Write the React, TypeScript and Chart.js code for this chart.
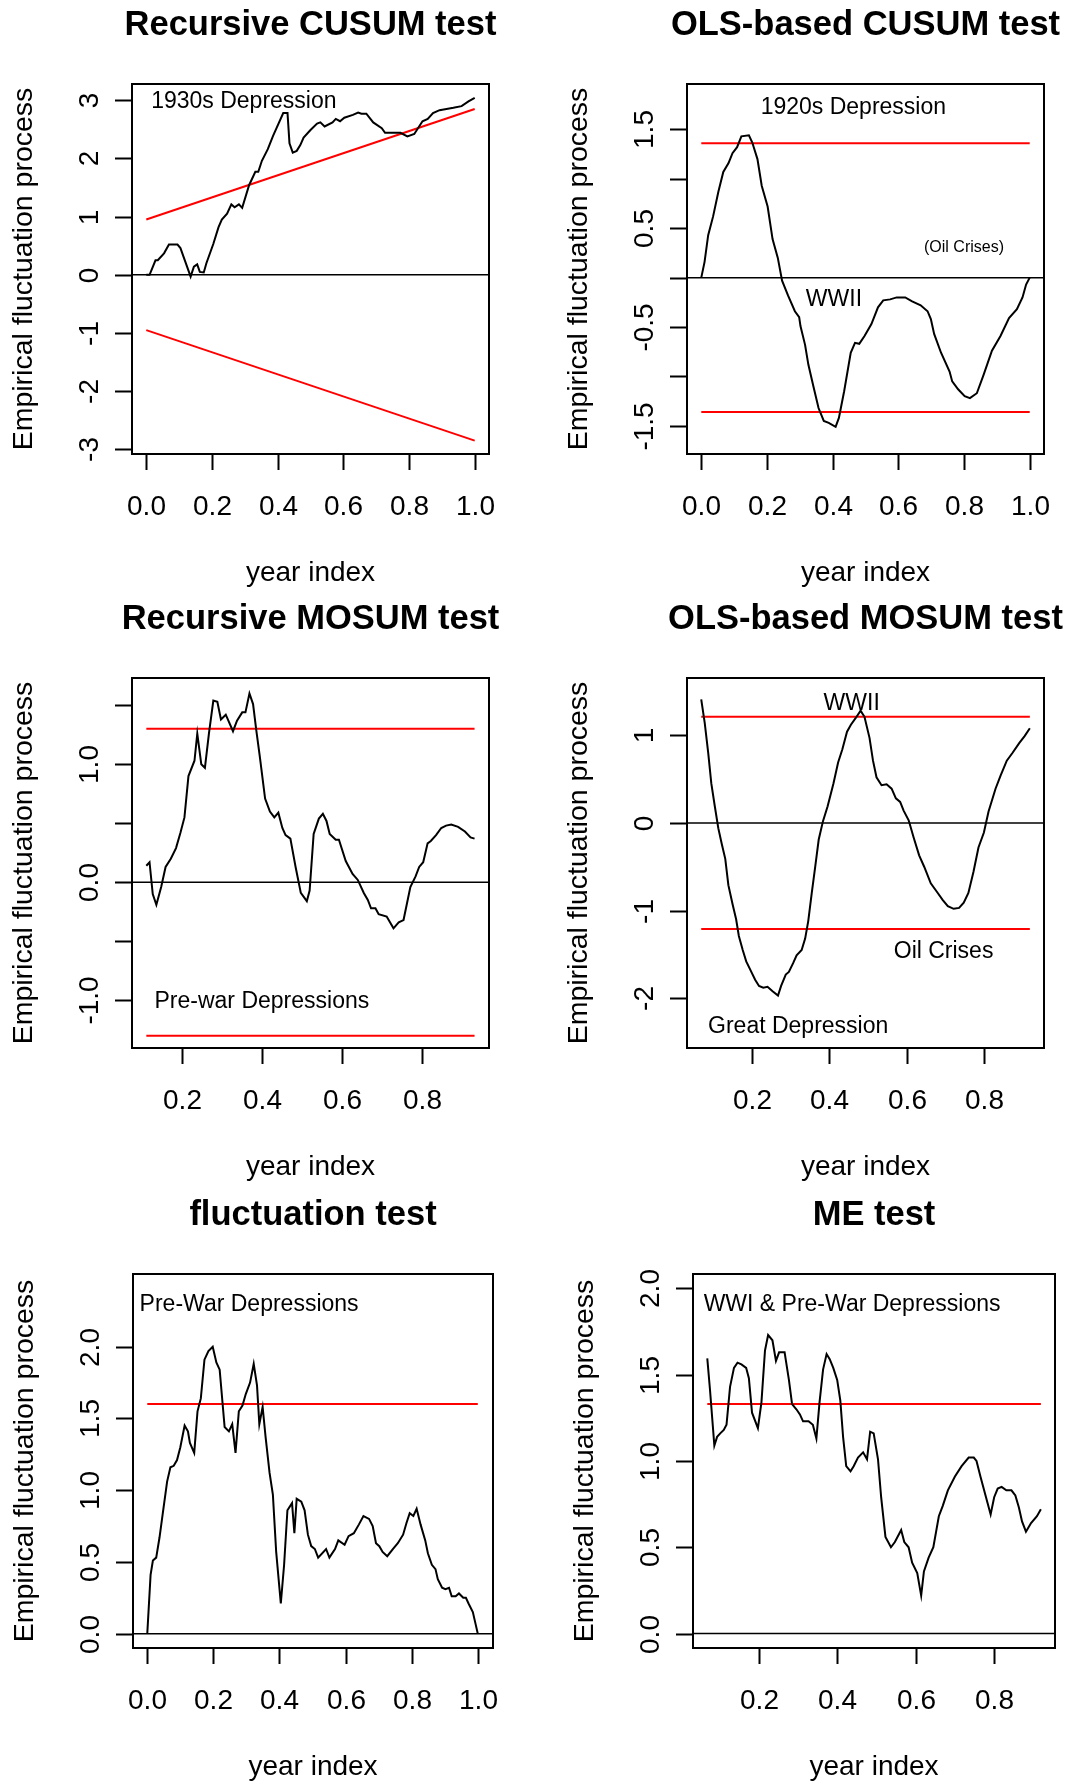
import React, { useEffect, useRef } from "react";
import { Chart, registerables } from "chart.js";

Chart.register(...registerables);

const FONT = '"Liberation Sans", Arial, Helvetica, sans-serif';
const CW = 534;
const CH = 594;

// ---------- Panel 1: Recursive CUSUM ----------
const p1X = [0, 0.01, 0.028, 0.035, 0.054, 0.069, 0.095, 0.104, 0.116, 0.135, 0.145, 0.155, 0.163, 0.175, 0.183, 0.204, 0.22, 0.23, 0.246, 0.259, 0.269, 0.282, 0.292, 0.313, 0.332, 0.341, 0.352, 0.37, 0.386, 0.417, 0.43, 0.436, 0.446, 0.458, 0.469, 0.479, 0.5, 0.52, 0.53, 0.543, 0.567, 0.577, 0.59, 0.603, 0.629, 0.645, 0.655, 0.67, 0.691, 0.717, 0.727, 0.774, 0.795, 0.816, 0.841, 0.857, 0.873, 0.893, 0.914, 0.935, 0.96, 0.981, 1.0];
const p1Y = [0, 0, 0.25, 0.25, 0.37, 0.52, 0.52, 0.46, 0.27, -0.03, 0.14, 0.18, 0.05, 0.04, 0.2, 0.53, 0.82, 0.95, 1.05, 1.21, 1.16, 1.21, 1.15, 1.54, 1.77, 1.77, 1.96, 2.16, 2.39, 2.78, 2.78, 2.26, 2.1, 2.13, 2.23, 2.36, 2.49, 2.6, 2.62, 2.55, 2.62, 2.68, 2.64, 2.7, 2.75, 2.79, 2.77, 2.77, 2.62, 2.52, 2.44, 2.44, 2.38, 2.42, 2.64, 2.68, 2.78, 2.83, 2.85, 2.87, 2.9, 2.98, 3.04];
const p1BoundX = [0, 1];
const p1UpperY = [0.95, 2.85];
const p1LowerY = [-0.95, -2.85];
const p1XTicks = [0, 0.2, 0.4, 0.6, 0.8, 1.0];
const p1XLabels = ["0.0", "0.2", "0.4", "0.6", "0.8", "1.0"];
const p1YTicks = [-3, -2, -1, 0, 1, 2, 3];
const p1YLabels = ["-3", "-2", "-1", "0", "1", "2", "3"];

// ---------- Panel 2: OLS-based CUSUM ----------
const p2X = [0, 0.01, 0.021, 0.036, 0.052, 0.067, 0.083, 0.095, 0.109, 0.122, 0.145, 0.155, 0.171, 0.184, 0.202, 0.217, 0.233, 0.246, 0.264, 0.285, 0.298, 0.302, 0.316, 0.326, 0.342, 0.357, 0.373, 0.388, 0.409, 0.419, 0.435, 0.455, 0.468, 0.481, 0.497, 0.518, 0.538, 0.554, 0.575, 0.595, 0.621, 0.642, 0.668, 0.689, 0.699, 0.709, 0.73, 0.756, 0.764, 0.782, 0.802, 0.818, 0.839, 0.859, 0.885, 0.911, 0.937, 0.961, 0.978, 0.989, 1.0];
const p2Y = [0, 0.16, 0.43, 0.62, 0.87, 1.07, 1.16, 1.26, 1.32, 1.43, 1.44, 1.37, 1.2, 0.93, 0.72, 0.39, 0.2, -0.03, -0.18, -0.34, -0.4, -0.49, -0.68, -0.88, -1.11, -1.32, -1.45, -1.47, -1.51, -1.42, -1.15, -0.76, -0.66, -0.67, -0.59, -0.47, -0.3, -0.23, -0.22, -0.2, -0.2, -0.24, -0.28, -0.34, -0.42, -0.57, -0.76, -0.95, -1.05, -1.13, -1.2, -1.22, -1.17, -0.99, -0.74, -0.59, -0.41, -0.32, -0.2, -0.07, 0];
const p2BoundX = [0, 1];
const p2UpperY = [1.36, 1.36];
const p2LowerY = [-1.36, -1.36];
const p2XTicks = [0, 0.2, 0.4, 0.6, 0.8, 1.0];
const p2XLabels = ["0.0", "0.2", "0.4", "0.6", "0.8", "1.0"];
const p2YTicks = [-1.5, -1.0, -0.5, 0, 0.5, 1.0, 1.5];
const p2YLabels = ["-1.5", "", "-0.5", "", "0.5", "", "1.5"];

// ---------- Panel 3: Recursive MOSUM ----------
const p3X = [0.112, 0.12, 0.128, 0.137, 0.149, 0.16, 0.173, 0.186, 0.197, 0.207, 0.217, 0.232, 0.239, 0.249, 0.258, 0.268, 0.279, 0.289, 0.298, 0.31, 0.328, 0.338, 0.351, 0.359, 0.369, 0.378, 0.386, 0.395, 0.408, 0.42, 0.431, 0.441, 0.451, 0.459, 0.471, 0.484, 0.497, 0.512, 0.519, 0.529, 0.542, 0.552, 0.561, 0.569, 0.584, 0.592, 0.609, 0.626, 0.639, 0.654, 0.664, 0.672, 0.683, 0.691, 0.711, 0.728, 0.741, 0.753, 0.77, 0.783, 0.792, 0.802, 0.813, 0.821, 0.834, 0.847, 0.859, 0.872, 0.889, 0.906, 0.92, 0.93];
const p3Y = [0.14, 0.17, -0.1, -0.19, -0.04, 0.13, 0.2, 0.29, 0.42, 0.55, 0.9, 1.03, 1.26, 1.0, 0.97, 1.26, 1.54, 1.53, 1.38, 1.42, 1.28, 1.37, 1.44, 1.44, 1.6, 1.51, 1.29, 1.06, 0.71, 0.6, 0.55, 0.59, 0.46, 0.4, 0.37, 0.13, -0.09, -0.16, -0.07, 0.41, 0.54, 0.58, 0.52, 0.41, 0.36, 0.36, 0.18, 0.07, 0.02, -0.09, -0.15, -0.22, -0.22, -0.27, -0.29, -0.39, -0.34, -0.32, -0.04, 0.05, 0.13, 0.17, 0.33, 0.35, 0.4, 0.46, 0.48, 0.49, 0.47, 0.43, 0.38, 0.37];
const p3BoundX = [0.112, 0.93];
const p3UpperY = [1.3, 1.3];
const p3LowerY = [-1.3, -1.3];
const p3XTicks = [0.2, 0.4, 0.6, 0.8];
const p3XLabels = ["0.2", "0.4", "0.6", "0.8"];
const p3YTicks = [-1.0, -0.5, 0, 0.5, 1.0, 1.5];
const p3YLabels = ["-1.0", "", "0.0", "", "1.0", ""];

// ---------- Panel 4: OLS-based MOSUM ----------
const p4X = [0.07, 0.079, 0.088, 0.096, 0.105, 0.114, 0.123, 0.132, 0.14, 0.151, 0.16, 0.167, 0.177, 0.186, 0.197, 0.209, 0.219, 0.23, 0.241, 0.254, 0.268, 0.276, 0.288, 0.296, 0.307, 0.316, 0.329, 0.338, 0.346, 0.355, 0.364, 0.373, 0.384, 0.396, 0.411, 0.423, 0.434, 0.446, 0.456, 0.469, 0.481, 0.491, 0.504, 0.513, 0.522, 0.535, 0.548, 0.561, 0.572, 0.583, 0.592, 0.605, 0.618, 0.632, 0.645, 0.662, 0.68, 0.693, 0.706, 0.721, 0.735, 0.747, 0.759, 0.772, 0.785, 0.799, 0.811, 0.829, 0.842, 0.858, 0.873, 0.89, 0.904, 0.9175];
const p4Y = [1.41, 1.14, 0.8, 0.45, 0.19, -0.06, -0.24, -0.41, -0.71, -0.93, -1.1, -1.29, -1.45, -1.58, -1.68, -1.79, -1.86, -1.88, -1.87, -1.92, -1.97, -1.86, -1.73, -1.7, -1.6, -1.51, -1.45, -1.32, -1.12, -0.8, -0.5, -0.19, 0.02, 0.19, 0.45, 0.69, 0.84, 1.04, 1.12, 1.2, 1.28, 1.21, 0.97, 0.71, 0.52, 0.43, 0.44, 0.39, 0.28, 0.24, 0.14, 0.03, -0.17, -0.37, -0.5, -0.69, -0.8, -0.88, -0.95, -0.98, -0.97, -0.91, -0.8, -0.56, -0.28, -0.11, 0.13, 0.39, 0.54, 0.71, 0.8, 0.91, 0.99, 1.08];
const p4BoundX = [0.07, 0.9175];
const p4UpperY = [1.21, 1.21];
const p4LowerY = [-1.21, -1.21];
const p4XTicks = [0.2, 0.4, 0.6, 0.8];
const p4XLabels = ["0.2", "0.4", "0.6", "0.8"];
const p4YTicks = [-2, -1, 0, 1];
const p4YLabels = ["-2", "-1", "0", "1"];

// ---------- Panel 5: fluctuation test ----------
const p5X = [0, 0.01, 0.017, 0.027, 0.037, 0.047, 0.06, 0.07, 0.08, 0.09, 0.1, 0.113, 0.123, 0.129, 0.142, 0.152, 0.162, 0.173, 0.185, 0.198, 0.209, 0.219, 0.234, 0.247, 0.257, 0.267, 0.277, 0.288, 0.298, 0.311, 0.322, 0.332, 0.339, 0.349, 0.358, 0.37, 0.38, 0.39, 0.404, 0.414, 0.424, 0.438, 0.445, 0.452, 0.466, 0.476, 0.486, 0.496, 0.507, 0.517, 0.541, 0.551, 0.568, 0.578, 0.597, 0.609, 0.625, 0.64, 0.654, 0.671, 0.682, 0.692, 0.702, 0.712, 0.726, 0.743, 0.758, 0.774, 0.784, 0.794, 0.805, 0.815, 0.827, 0.841, 0.849, 0.861, 0.872, 0.879, 0.892, 0.902, 0.913, 0.921, 0.933, 0.943, 0.956, 0.964, 0.972, 0.985, 0.993, 1.0];
const p5Y = [0, 0.41, 0.51, 0.53, 0.67, 0.84, 1.06, 1.16, 1.17, 1.21, 1.3, 1.45, 1.41, 1.33, 1.26, 1.55, 1.64, 1.91, 1.97, 2.0, 1.89, 1.84, 1.44, 1.41, 1.46, 1.26, 1.55, 1.59, 1.67, 1.75, 1.88, 1.73, 1.46, 1.58, 1.37, 1.12, 0.97, 0.57, 0.21, 0.48, 0.86, 0.91, 0.7, 0.94, 0.92, 0.86, 0.69, 0.61, 0.59, 0.53, 0.59, 0.53, 0.59, 0.65, 0.62, 0.68, 0.7, 0.76, 0.82, 0.8, 0.75, 0.63, 0.61, 0.57, 0.54, 0.59, 0.63, 0.69, 0.77, 0.84, 0.82, 0.87, 0.76, 0.65, 0.56, 0.48, 0.45, 0.38, 0.32, 0.31, 0.32, 0.26, 0.26, 0.28, 0.25, 0.25, 0.21, 0.15, 0.07, 0];
const p5BoundX = [0, 1];
const p5UpperY = [1.6, 1.6];
const p5XTicks = [0, 0.2, 0.4, 0.6, 0.8, 1.0];
const p5XLabels = ["0.0", "0.2", "0.4", "0.6", "0.8", "1.0"];
const p5YTicks = [0, 0.5, 1.0, 1.5, 2.0];
const p5YLabels = ["0.0", "0.5", "1.0", "1.5", "2.0"];

// ---------- Panel 6: ME test ----------
const p6X = [0.069, 0.076, 0.087, 0.094, 0.102, 0.111, 0.118, 0.127, 0.137, 0.146, 0.156, 0.168, 0.175, 0.183, 0.198, 0.207, 0.216, 0.224, 0.235, 0.244, 0.252, 0.266, 0.277, 0.285, 0.296, 0.305, 0.313, 0.327, 0.338, 0.347, 0.355, 0.364, 0.373, 0.381, 0.39, 0.4, 0.408, 0.415, 0.423, 0.434, 0.442, 0.453, 0.466, 0.476, 0.484, 0.493, 0.504, 0.512, 0.523, 0.537, 0.547, 0.563, 0.571, 0.582, 0.591, 0.604, 0.614, 0.621, 0.633, 0.645, 0.659, 0.669, 0.682, 0.7, 0.717, 0.735, 0.748, 0.755, 0.765, 0.778, 0.791, 0.8, 0.809, 0.819, 0.831, 0.844, 0.854, 0.863, 0.871, 0.881, 0.894, 0.909, 0.919];
const p6Y = [1.595, 1.41, 1.09, 1.14, 1.16, 1.18, 1.21, 1.43, 1.54, 1.57, 1.56, 1.54, 1.48, 1.28, 1.19, 1.34, 1.64, 1.73, 1.7, 1.58, 1.63, 1.63, 1.47, 1.33, 1.3, 1.27, 1.23, 1.23, 1.21, 1.13, 1.34, 1.53, 1.62, 1.59, 1.54, 1.47, 1.35, 1.14, 0.97, 0.94, 0.97, 1.02, 1.05, 1.01, 1.17, 1.16, 1.01, 0.79, 0.56, 0.5, 0.53, 0.6, 0.53, 0.5, 0.41, 0.35, 0.22, 0.36, 0.44, 0.5, 0.68, 0.74, 0.83, 0.91, 0.97, 1.02, 1.02, 1.0, 0.91, 0.8, 0.69, 0.79, 0.84, 0.85, 0.83, 0.83, 0.8, 0.73, 0.65, 0.59, 0.64, 0.68, 0.72];
const p6BoundX = [0.069, 0.919];
const p6UpperY = [1.33, 1.33];
const p6XTicks = [0.2, 0.4, 0.6, 0.8];
const p6XLabels = ["0.2", "0.4", "0.6", "0.8"];
const p6YTicks = [0, 0.5, 1.0, 1.5, 2.0];
const p6YLabels = ["0.0", "0.5", "1.0", "1.5", "2.0"];

const Y_TITLE = "Empirical fluctuation process";
const X_TITLE = "year index";

type Note = { text: string; x: number; y: number; size: number };
type Panel = {
  title: string;
  row: number;
  col: number;
  pad: { left: number; top: number; right: number; bottom: number };
  xRange: number[];
  yRange: number[];
  xs: number[];
  ys: number[];
  boundX: number[];
  bounds: number[][];
  xTicks: number[];
  xLabels: string[];
  yTicks: number[];
  yLabels: string[];
  notes: Note[];
};

const panels: Panel[] = [
  {
    title: "Recursive CUSUM test", row: 0, col: 0,
    pad: { left: 132, top: 84, right: 45, bottom: 140 },
    xRange: [-0.0435, 1.0435], yRange: [-3.08, 3.28],
    xs: p1X, ys: p1Y, boundX: p1BoundX, bounds: [p1UpperY, p1LowerY],
    xTicks: p1XTicks, xLabels: p1XLabels, yTicks: p1YTicks, yLabels: p1YLabels,
    notes: [{ text: "1930s Depression", x: 0.297, y: 2.98, size: 23 }],
  },
  {
    title: "OLS-based CUSUM test", row: 0, col: 1,
    pad: { left: 153, top: 84, right: 24, bottom: 140 },
    xRange: [-0.0435, 1.0435], yRange: [-1.785, 1.96],
    xs: p2X, ys: p2Y, boundX: p2BoundX, bounds: [p2UpperY, p2LowerY],
    xTicks: p2XTicks, xLabels: p2XLabels, yTicks: p2YTicks, yLabels: p2YLabels,
    notes: [
      { text: "1920s Depression", x: 0.463, y: 1.72, size: 23 },
      { text: "(Oil Crises)", x: 0.8, y: 0.3, size: 16 },
      { text: "WWII", x: 0.404, y: -0.22, size: 23 },
    ],
  },
  {
    title: "Recursive MOSUM test", row: 1, col: 0,
    pad: { left: 132, top: 84, right: 45, bottom: 140 },
    xRange: [0.0763, 0.966], yRange: [-1.404, 1.731],
    xs: p3X, ys: p3Y, boundX: p3BoundX, bounds: [p3UpperY, p3LowerY],
    xTicks: p3XTicks, xLabels: p3XLabels, yTicks: p3YTicks, yLabels: p3YLabels,
    notes: [{ text: "Pre-war Depressions", x: 0.4, y: -1.01, size: 23 }],
  },
  {
    title: "OLS-based MOSUM test", row: 1, col: 1,
    pad: { left: 153, top: 84, right: 24, bottom: 140 },
    xRange: [0.0333, 0.954], yRange: [-2.568, 1.653],
    xs: p4X, ys: p4Y, boundX: p4BoundX, bounds: [p4UpperY, p4LowerY],
    xTicks: p4XTicks, xLabels: p4XLabels, yTicks: p4YTicks, yLabels: p4YLabels,
    notes: [
      { text: "WWII", x: 0.458, y: 1.36, size: 23 },
      { text: "Oil Crises", x: 0.695, y: -1.47, size: 23 },
      { text: "Great Depression", x: 0.32, y: -2.32, size: 23 },
    ],
  },
  {
    title: "fluctuation test", row: 2, col: 0,
    pad: { left: 133, top: 86, right: 41, bottom: 134 },
    xRange: [-0.0432, 1.046], yRange: [-0.1, 2.507],
    xs: p5X, ys: p5Y, boundX: p5BoundX, bounds: [p5UpperY],
    xTicks: p5XTicks, xLabels: p5XLabels, yTicks: p5YTicks, yLabels: p5YLabels,
    notes: [{ text: "Pre-War Depressions", x: 0.308, y: 2.29, size: 23 }],
  },
  {
    title: "ME test", row: 2, col: 1,
    pad: { left: 159, top: 86, right: 13, bottom: 134 },
    xRange: [0.0326, 0.955], yRange: [-0.084, 2.084],
    xs: p6X, ys: p6Y, boundX: p6BoundX, bounds: [p6UpperY],
    xTicks: p6XTicks, xLabels: p6XLabels, yTicks: p6YTicks, yLabels: p6YLabels,
    notes: [{ text: "WWI & Pre-War Depressions", x: 0.438, y: 1.908, size: 23 }],
  },
];

function zip(xs: number[], ys: number[]) {
  const n = Math.min(xs.length, ys.length);
  const out: { x: number; y: number }[] = [];
  for (let i = 0; i < n; i++) out.push({ x: xs[i], y: ys[i] });
  return out;
}

function makePlugin(p: Panel) {
  return {
    id: "rStyle",
    afterDraw(chart: any) {
      const { ctx, chartArea: a, scales } = chart;
      const xs = scales.x;
      const ys = scales.y;
      ctx.save();
      ctx.strokeStyle = "#000";
      ctx.fillStyle = "#000";
      ctx.lineWidth = 2;
      ctx.strokeRect(a.left, a.top, a.right - a.left, a.bottom - a.top);

      // x axis ticks + labels
      ctx.font = `28px ${FONT}`;
      ctx.textAlign = "center";
      ctx.textBaseline = "middle";
      p.xTicks.forEach((v, i) => {
        const px = Math.round(xs.getPixelForValue(v)) + 0.5;
        ctx.beginPath();
        ctx.moveTo(px, a.bottom);
        ctx.lineTo(px, a.bottom + 16);
        ctx.stroke();
        ctx.fillText(p.xLabels[i], px, a.bottom + 53);
      });
      // y axis ticks + rotated labels
      p.yTicks.forEach((v, i) => {
        const py = Math.round(ys.getPixelForValue(v)) + 0.5;
        ctx.beginPath();
        ctx.moveTo(a.left - 17, py);
        ctx.lineTo(a.left, py);
        ctx.stroke();
        if (p.yLabels[i]) {
          ctx.save();
          ctx.translate(a.left - 42, py);
          ctx.rotate(-Math.PI / 2);
          ctx.fillText(p.yLabels[i], 0, 0);
          ctx.restore();
        }
      });
      // axis titles
      const cx = (a.left + a.right) / 2;
      const cy = (a.top + a.bottom) / 2;
      ctx.fillText(X_TITLE, cx, a.bottom + 119);
      ctx.save();
      ctx.font = `28.5px ${FONT}`;
      ctx.translate(a.left - 108, cy);
      ctx.rotate(-Math.PI / 2);
      ctx.fillText(Y_TITLE, 0, 0);
      ctx.restore();
      // main title
      ctx.font = `bold 34.5px ${FONT}`;
      ctx.fillText(p.title, cx, a.top - 59);
      // annotations
      p.notes.forEach((n) => {
        ctx.font = `${n.size}px ${FONT}`;
        ctx.fillText(n.text, xs.getPixelForValue(n.x), ys.getPixelForValue(n.y));
      });
      ctx.restore();
    },
  };
}

function PanelChart({ p }: { p: Panel }) {
  const ref = useRef<HTMLCanvasElement>(null);
  useEffect(() => {
    if (!ref.current) return;
    const datasets: any[] = [
      {
        data: zip(p.xs, p.ys),
        borderColor: "#000000",
        borderWidth: 2,
        order: 0,
      },
      ...p.bounds.map((b) => ({
        data: zip(p.boundX, b),
        borderColor: "#FF0000",
        borderWidth: 2,
        order: 1,
      })),
      {
        data: zip(p.xRange, [0, 0]),
        borderColor: "#000000",
        borderWidth: 1.5,
        order: 2,
      },
    ];
    const chart = new Chart(ref.current, {
      type: "line",
      data: { datasets },
      options: {
        animation: false,
        responsive: false,
        devicePixelRatio: 1,
        events: [],
        layout: { padding: p.pad },
        elements: { point: { radius: 0 }, line: { tension: 0, fill: false } },
        scales: {
          x: { type: "linear", min: p.xRange[0], max: p.xRange[1], display: false },
          y: { type: "linear", min: p.yRange[0], max: p.yRange[1], display: false },
        },
        plugins: {
          legend: { display: false },
          tooltip: { enabled: false },
          title: { display: false },
        },
      },
      plugins: [makePlugin(p)],
    } as any);
    return () => chart.destroy();
  }, [p]);
  return (
    <canvas
      ref={ref}
      width={CW}
      height={CH}
      style={{ position: "absolute", left: p.col * CW, top: p.row * CH, width: CW, height: CH }}
    />
  );
}

export default function App() {
  return (
    <div
      style={{
        position: "absolute",
        left: 0,
        top: 0,
        width: 1068,
        height: 1782,
        background: "#ffffff",
        overflow: "hidden",
      }}
    >
      {panels.map((p, i) => (
        <PanelChart key={i} p={p} />
      ))}
    </div>
  );
}
